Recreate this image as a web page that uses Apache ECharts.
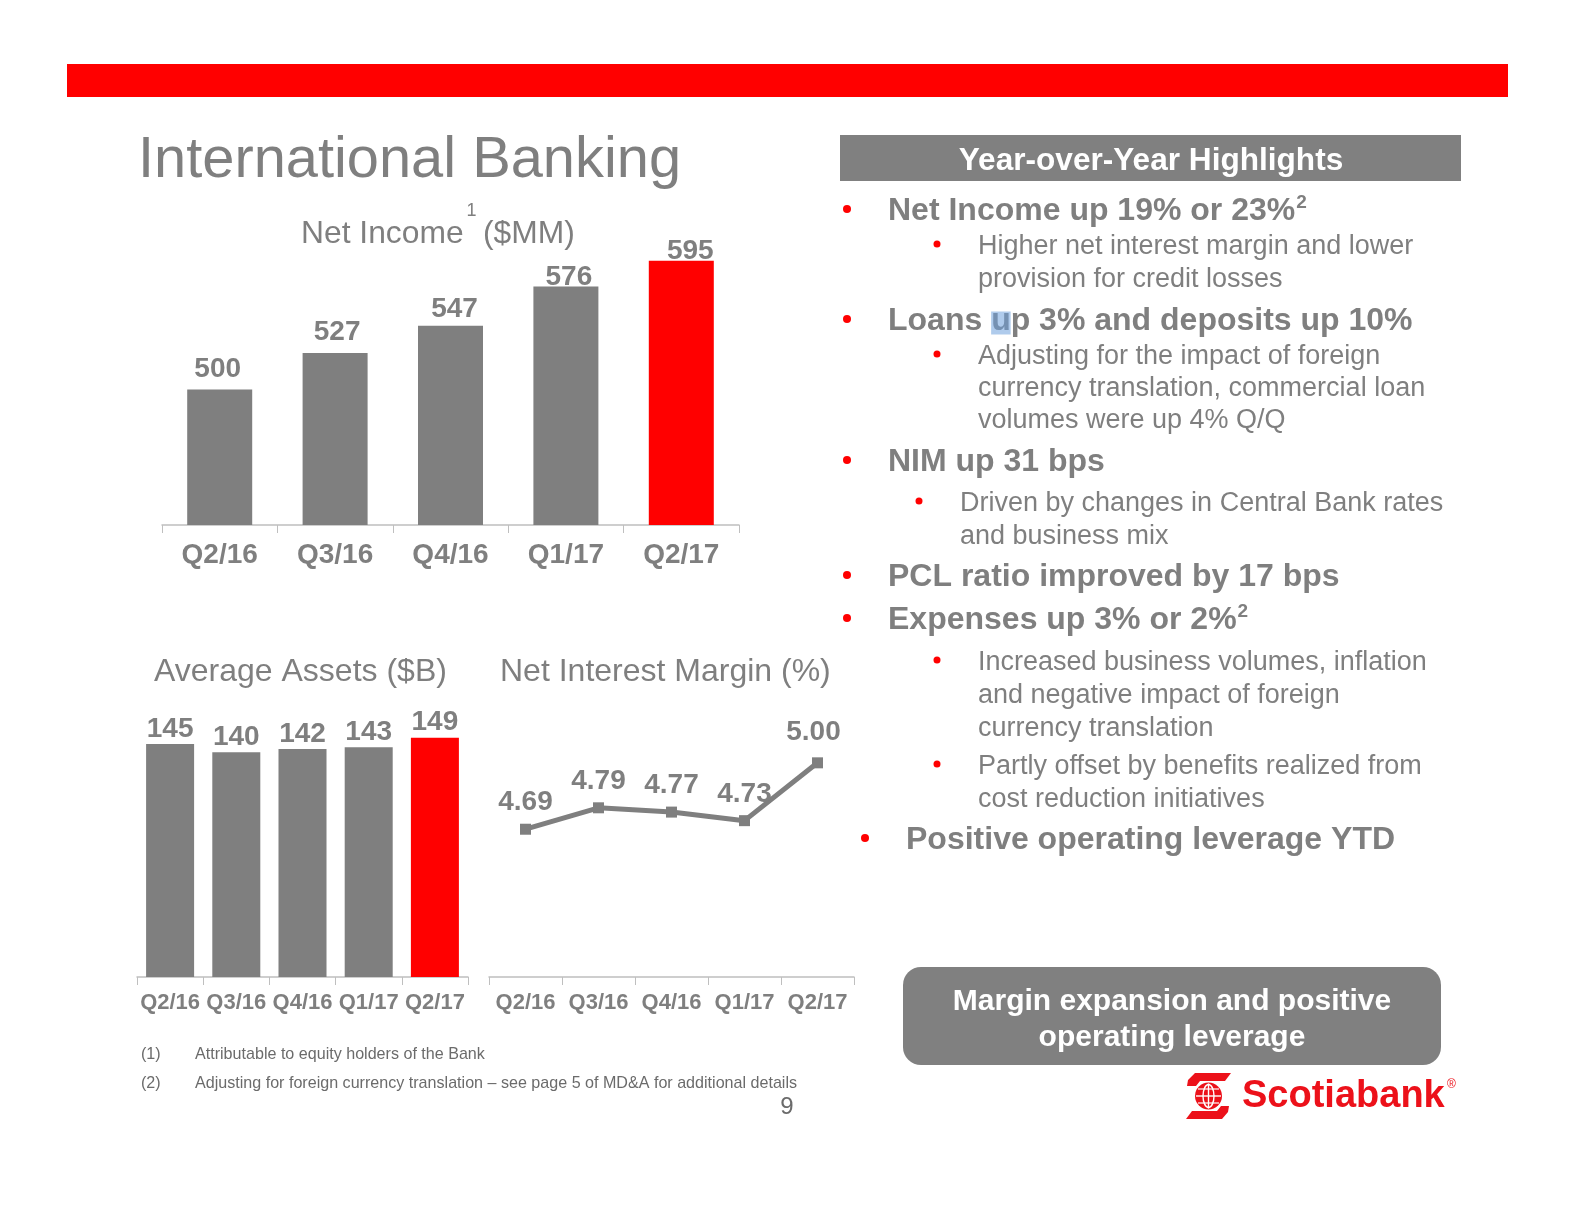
<!DOCTYPE html>
<html>
<head>
<meta charset="utf-8">
<script src="https://cdn.jsdelivr.net/npm/echarts@6/dist/echarts.min.js"></script>
<style>
html,body{margin:0;padding:0;background:#fff;}
#c{width:1576px;height:1210px;}
</style>
</head>
<body>
<div id="c"></div>
<script>
// ---- data ----
const quarters = ['Q2/16', 'Q3/16', 'Q4/16', 'Q1/17', 'Q2/17'];
const netIncome = [500, 527, 547, 576, 595];
const avgAssets = [145, 140, 142, 143, 149];
const nim = [4.69, 4.79, 4.77, 4.73, 5.00];

// ---- styling ----
const FF = '"Liberation Sans", Arial, Helvetica, sans-serif';
const GRAY = '#7f7f7f';
const RED = '#ff0000';
const AXIS = '#bfbfbf';
const DY = 2.5; // vertical text adjustment
const netLabelNudge = [[-2, -5], [2, -5], [4, -1], [3, 6], [9, 6]];

const mctx = document.createElement('canvas').getContext('2d');
function tw(text, size, bold) {
  mctx.font = (bold ? 'bold ' : '') + size + 'px ' + FF;
  return mctx.measureText(text).width;
}
function txt(x, y, text, size, opts) {
  opts = opts || {};
  const bold = !!opts.bold;
  return {
    type: 'text', x: x, y: y + DY, z: opts.z || 10,
    style: {
      text: text, fill: opts.color || GRAY,
      font: (bold ? 'bold ' : '') + size + 'px ' + FF,
      align: opts.align || 'left', textAlign: opts.align || 'left',
      verticalAlign: 'middle', textVerticalAlign: 'middle'
    }
  };
}

const graphics = [];
// top red band
graphics.push({ type: 'rect', shape: { x: 67, y: 64, width: 1441, height: 33 }, style: { fill: RED } });
// title
graphics.push(txt(138, 159, 'International Banking', 57.8));
// chart titles
graphics.push(txt(301, 232, 'Net Income', 31.8));
const niW = tw('Net Income', 31.8, false);
graphics.push(txt(301 + niW + 3, 209, '1', 18));
graphics.push(txt(483, 232, '($MM)', 31.8));
graphics.push(txt(154, 670, 'Average Assets ($B)', 32));
graphics.push(txt(500, 670, 'Net Interest Margin (%)', 32));

// highlight header
graphics.push({ type: 'rect', shape: { x: 840, y: 135, width: 621, height: 46 }, style: { fill: '#808080' } });
graphics.push(txt(1151, 159, 'Year-over-Year Highlights', 31.6, { bold: true, color: '#ffffff', align: 'center' }));

// bullets
const lines = [
  { k: 'm', y: 209, t: 'Net Income up 19% or 23%', sup: '2' },
  { k: 's', y: 244, t: 'Higher net interest margin and lower', dot: true },
  { k: 's', y: 277, t: 'provision for credit losses' },
  { k: 'm', y: 319, t: 'Loans up 3% and deposits up 10%', hl: true },
  { k: 's', y: 354, t: 'Adjusting for the impact of foreign', dot: true },
  { k: 's', y: 386, t: 'currency translation, commercial loan' },
  { k: 's', y: 418, t: 'volumes were up 4% Q/Q' },
  { k: 'm', y: 460, t: 'NIM up 31 bps' },
  { k: 's2', y: 501, t: 'Driven by changes in Central Bank rates', dot: true },
  { k: 's2', y: 534, t: 'and business mix' },
  { k: 'm', y: 575, t: 'PCL ratio improved by 17 bps' },
  { k: 'm', y: 618, t: 'Expenses up 3% or 2%', sup: '2' },
  { k: 's', y: 660, t: 'Increased business volumes, inflation', dot: true },
  { k: 's', y: 693, t: 'and negative impact of foreign' },
  { k: 's', y: 726, t: 'currency translation' },
  { k: 's', y: 764, t: 'Partly offset by benefits realized from', dot: true },
  { k: 's', y: 797, t: 'cost reduction initiatives' },
  { k: 'm2', y: 838, t: 'Positive operating leverage YTD' }
];
const geo = {
  m: { x: 888, dx: 847, size: 32, bold: true, r: 4 },
  m2: { x: 906, dx: 865, size: 32, bold: true, r: 4 },
  s: { x: 978, dx: 937, size: 27, bold: false, r: 3.5 },
  s2: { x: 960, dx: 919, size: 27, bold: false, r: 3.5 }
};
lines.forEach(function (l) {
  const g = geo[l.k];
  graphics.push(txt(g.x, l.y, l.t, g.size, { bold: g.bold }));
  if (l.k === 'm' || l.k === 'm2' || l.dot) {
    graphics.push({ type: 'circle', shape: { cx: g.dx, cy: l.y, r: g.r }, style: { fill: RED } });
  }
  if (l.sup) {
    const w = tw(l.t, g.size, g.bold);
    graphics.push(txt(g.x + w + 1, l.y - 9, l.sup, 19, { bold: true }));
  }
  if (l.hl) {
    const w0 = tw('Loans ', g.size, g.bold);
    const wu = tw('u', g.size, g.bold);
    graphics.push({ type: 'rect', z: 11, shape: { x: g.x + w0, y: l.y - 10 + DY, width: wu, height: 23 },
      style: { fill: 'rgba(110,160,220,0.55)' } });
  }
});

// bottom box
graphics.push({ type: 'rect', shape: { x: 903, y: 967, width: 538, height: 98, r: 18 }, style: { fill: '#808080' } });
graphics.push(txt(1172, 999, 'Margin expansion and positive', 30, { bold: true, color: '#ffffff', align: 'center' }));
graphics.push(txt(1172, 1035, 'operating leverage', 30, { bold: true, color: '#ffffff', align: 'center' }));

// footnotes
const FN = '#6b6b6b';
graphics.push(txt(141, 1052, '(1)', 16.1, { color: FN }));
graphics.push(txt(195, 1052, 'Attributable to equity holders of the Bank', 16.1, { color: FN }));
graphics.push(txt(141, 1081, '(2)', 16.1, { color: FN }));
graphics.push(txt(195, 1081, 'Adjusting for foreign currency translation \u2013 see page 5 of MD&A for additional details', 16.1, { color: FN }));
graphics.push(txt(787, 1105, '9', 24, { color: FN, align: 'center' }));

// Scotiabank logo
const LR = '#ec111a';
graphics.push({ type: 'polygon', shape: { points: [[1195, 1073], [1231, 1073], [1225, 1081], [1200, 1081], [1196, 1086], [1187, 1086], [1188, 1080]] }, style: { fill: LR } });
graphics.push({ type: 'polygon', shape: { points: [[1229, 1106], [1228, 1112], [1222, 1119], [1186, 1119], [1192, 1111], [1217, 1111], [1221, 1106]] }, style: { fill: LR } });
graphics.push({ type: 'circle', shape: { cx: 1208.5, cy: 1096, r: 13.5 }, style: { fill: LR } });
graphics.push({ type: 'ellipse', shape: { cx: 1208.5, cy: 1096, rx: 5.5, ry: 11.5 }, style: { fill: 'none', stroke: '#fff', lineWidth: 1.4 } });
graphics.push({ type: 'line', shape: { x1: 1196, y1: 1096, x2: 1221, y2: 1096 }, style: { stroke: '#fff', lineWidth: 1.4 } });
graphics.push({ type: 'line', shape: { x1: 1208.5, y1: 1083.5, x2: 1208.5, y2: 1108.5 }, style: { stroke: '#fff', lineWidth: 1.4 } });
graphics.push({ type: 'line', shape: { x1: 1198, y1: 1089, x2: 1219, y2: 1089 }, style: { stroke: '#fff', lineWidth: 1.2 } });
graphics.push({ type: 'line', shape: { x1: 1198, y1: 1103, x2: 1219, y2: 1103 }, style: { stroke: '#fff', lineWidth: 1.2 } });
graphics.push(txt(1242, 1094, 'Scotiabank', 38, { bold: true, color: LR }));
graphics.push(txt(1447, 1082, '\u00ae', 12, { color: LR }));

// ---- chart ----
const chart = echarts.init(document.getElementById('c'), null, { renderer: 'canvas' });

function xAxisCfg(gi, size, margin) {
  return {
    type: 'category', gridIndex: gi, data: quarters, boundaryGap: true,
    axisLine: { show: true, lineStyle: { color: AXIS, width: 1.5 } },
    axisTick: { show: true, length: 8, interval: 0, lineStyle: { color: AXIS, width: 1 } },
    axisLabel: { color: GRAY, fontWeight: 'bold', fontSize: size, fontFamily: FF, margin: margin, interval: 0, hideOverlap: false },
    splitLine: { show: false }
  };
}
function yAxisCfg(gi, min, max) {
  return { type: 'value', gridIndex: gi, min: min, max: max, show: false, splitLine: { show: false } };
}
const barColor = function (p) { return p.dataIndex === quarters.length - 1 ? RED : GRAY; };

chart.setOption({
  animation: false,
  backgroundColor: '#ffffff',
  grid: [
    { left: 162, top: 254, width: 577, height: 271 },
    { left: 137, top: 720, width: 331, height: 257 },
    { left: 489, top: 720, width: 365, height: 257 }
  ],
  xAxis: [xAxisCfg(0, 28, 16), xAxisCfg(1, 22, 15), xAxisCfg(2, 22, 15)],
  yAxis: [yAxisCfg(0, 400, 600), yAxisCfg(1, 0, 160), yAxisCfg(2, 4.0, 5.2)],
  series: [
    {
      type: 'bar', xAxisIndex: 0, yAxisIndex: 0, barWidth: 65,
      data: netIncome.map(function (v, i) { return { value: v, label: { offset: netLabelNudge[i] } }; }),
      itemStyle: { color: barColor },
      label: { show: true, position: 'top', distance: 1.5, color: GRAY, fontWeight: 'bold', fontSize: 28, fontFamily: FF }
    },
    {
      type: 'bar', xAxisIndex: 1, yAxisIndex: 1, barWidth: 48,
      data: avgAssets,
      itemStyle: { color: barColor },
      label: { show: true, position: 'top', distance: 1, color: GRAY, fontWeight: 'bold', fontSize: 28, fontFamily: FF }
    },
    {
      type: 'line', xAxisIndex: 2, yAxisIndex: 2,
      data: nim.map(function (v, i) { return i === nim.length - 1 ? { value: v, label: { offset: [-4, -4] } } : v; }),
      lineStyle: { color: GRAY, width: 5 },
      itemStyle: { color: GRAY },
      symbol: 'rect', symbolSize: 11,
      label: {
        show: true, position: 'top', distance: 7, color: GRAY, fontWeight: 'bold', fontSize: 28, fontFamily: FF,
        formatter: function (p) { return p.value.toFixed(2); }
      }
    }
  ],
  graphic: graphics
});
</script>
</body>
</html>
